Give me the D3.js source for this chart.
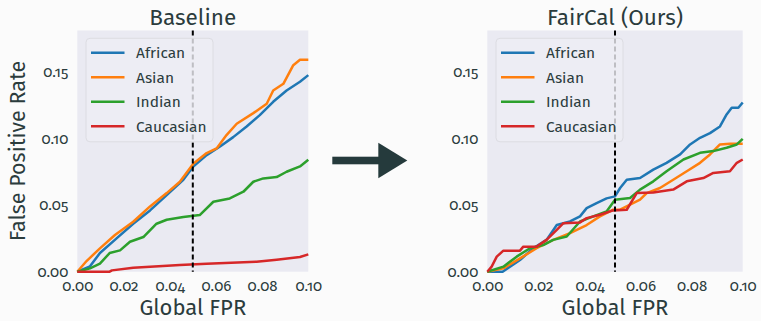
<!DOCTYPE html>
<html>
<head>
<meta charset="utf-8">
<script src="https://cdn.jsdelivr.net/npm/d3@7"></script>
<style>
  body { margin: 0; background: #fbfbfb; }
  svg { display: block; font-family: "Fira Sans", "Open Sans", sans-serif; }
  text { fill: #2b3c3d; }
  .tick-label { font-size: 15px; font-variant-numeric: oldstyle-nums; }
</style>
</head>
<body>
<div id="chart"></div>
<script>
const groups = ['African', 'Asian', 'Indian', 'Caucasian'];
const groupColors = ['#1f77b4', '#ff7f0e', '#2ca02c', '#d62728'];
const xTicks = [0, 0.02, 0.04, 0.06, 0.08, 0.10];
const yTicks = [0, 0.05, 0.10, 0.15];
const globalThreshold = 0.05;

// Baseline panel: [global FPR, group FPR]
const baselineAfrican = [[0, 0], [0.0055, 0.004], [0.0098, 0.014], [0.017, 0.025], [0.0242, 0.036], [0.0315, 0.046], [0.0387, 0.0575], [0.0459, 0.069], [0.0502, 0.079], [0.056, 0.0875], [0.0618, 0.094], [0.0675, 0.101], [0.0733, 0.109], [0.079, 0.1175], [0.0848, 0.1275], [0.0906, 0.136], [0.0964, 0.1425], [0.1, 0.1475]];
const baselineAsian = [[0, 0], [0.004, 0.008], [0.0098, 0.0175], [0.0163, 0.0275], [0.0242, 0.0375], [0.0315, 0.049], [0.0387, 0.059], [0.0444, 0.0675], [0.0502, 0.081], [0.056, 0.089], [0.0603, 0.0925], [0.0646, 0.1025], [0.069, 0.111], [0.0762, 0.119], [0.082, 0.126], [0.0848, 0.136], [0.0892, 0.141], [0.0935, 0.155], [0.0964, 0.159], [0.1, 0.159]];
const baselineIndian = [[0, 0], [0.0055, 0.0025], [0.0098, 0.006], [0.014, 0.014], [0.0185, 0.016], [0.0228, 0.0225], [0.0286, 0.026], [0.0343, 0.036], [0.0387, 0.039], [0.0459, 0.041], [0.053, 0.0425], [0.0589, 0.0525], [0.066, 0.055], [0.0719, 0.06], [0.0762, 0.0675], [0.0805, 0.07], [0.0863, 0.071], [0.0906, 0.075], [0.0964, 0.079], [0.1, 0.084]];
const baselineCaucasian = [[0, 0], [0.014, 0], [0.015, 0.001], [0.0242, 0.003], [0.0444, 0.005], [0.056, 0.006], [0.0776, 0.0075], [0.0863, 0.009], [0.0964, 0.011], [0.1, 0.013]];

// FairCal panel
const faircalAfrican = [[0, 0], [0.006, 0], [0.0089, 0.0038], [0.0128, 0.0088], [0.018, 0.0176], [0.0232, 0.0239], [0.0272, 0.035], [0.0324, 0.0377], [0.0363, 0.0415], [0.0389, 0.0477], [0.0428, 0.0515], [0.0467, 0.055], [0.05, 0.0565], [0.052, 0.0628], [0.0546, 0.069], [0.0598, 0.0703], [0.065, 0.0766], [0.0702, 0.0817], [0.0755, 0.088], [0.0794, 0.0955], [0.0833, 0.1005], [0.0872, 0.104], [0.0911, 0.109], [0.0937, 0.118], [0.0957, 0.123], [0.0983, 0.123], [0.1, 0.127]];
const faircalAsian = [[0, 0], [0.0063, 0.0025], [0.0128, 0.01], [0.0193, 0.0176], [0.0258, 0.0239], [0.0324, 0.0289], [0.0389, 0.035], [0.0441, 0.0415], [0.0493, 0.0465], [0.052, 0.0465], [0.0559, 0.0503], [0.0598, 0.054], [0.0624, 0.059], [0.0676, 0.0628], [0.0728, 0.069], [0.0781, 0.0754], [0.0833, 0.0817], [0.0872, 0.088], [0.0911, 0.0955], [0.095, 0.096], [0.1, 0.096]];
const faircalIndian = [[0, 0], [0.0063, 0.0038], [0.0115, 0.0113], [0.0167, 0.0176], [0.0219, 0.02], [0.0258, 0.0239], [0.0311, 0.0264], [0.0363, 0.0377], [0.0415, 0.0415], [0.0467, 0.0452], [0.05, 0.054], [0.0559, 0.0553], [0.0598, 0.0616], [0.065, 0.0678], [0.0702, 0.0754], [0.0768, 0.0842], [0.0833, 0.0892], [0.0885, 0.0905], [0.0937, 0.093], [0.0977, 0.0955], [0.1, 0.0997]];
const faircalCaucasian = [[0, 0], [0.0017, 0.0038], [0.0037, 0.0113], [0.0063, 0.0158], [0.0128, 0.0158], [0.0141, 0.0188], [0.0193, 0.0188], [0.0232, 0.0239], [0.0272, 0.0314], [0.0298, 0.0364], [0.0363, 0.037], [0.0389, 0.0402], [0.0441, 0.0427], [0.0493, 0.046], [0.0546, 0.0465], [0.0585, 0.059], [0.065, 0.0595], [0.0728, 0.0616], [0.0781, 0.0678], [0.0846, 0.0703], [0.0885, 0.0741], [0.095, 0.0754], [0.0977, 0.0817], [0.1, 0.0842]];

const width = 761, height = 321;
const plotTop = 30.5, plotBottom = 271.7;
const panels = [
  {title: 'Baseline', left: 77.3, right: 308.3, yLabel: true,
   series: [baselineAfrican, baselineAsian, baselineIndian, baselineCaucasian]},
  {title: 'FairCal (Ours)', left: 487.3, right: 742.7, yLabel: false,
   series: [faircalAfrican, faircalAsian, faircalIndian, faircalCaucasian]}
];

const svg = d3.select('#chart')
              .append('svg')
              .attr('width', width)
              .attr('height', height);

svg.append('rect')
   .attr('width', width)
   .attr('height', height)
   .attr('fill', '#fbfbfb');

const yScale = d3.scaleLinear()
                 .domain([0, 0.181])
                 .range([plotBottom, plotTop]);

panels.forEach(p => {
  const xScale = d3.scaleLinear()
                   .domain([0, 0.1])
                   .range([p.left, p.right]);
  const g = svg.append('g');
  const mid = (p.left + p.right) / 2;

  g.append('rect')
   .attr('x', p.left)
   .attr('y', plotTop)
   .attr('width', p.right - p.left)
   .attr('height', plotBottom - plotTop)
   .attr('fill', '#eaeaf2');

  const line = d3.line()
                 .x(d => xScale(d[0]))
                 .y(d => yScale(d[1]));

  p.series.forEach((s, i) => {
    g.append('path')
     .datum(s)
     .attr('d', line)
     .attr('fill', 'none')
     .attr('stroke', groupColors[i])
     .attr('stroke-width', 2.5)
     .attr('stroke-linejoin', 'round');
  });

  g.append('line')
   .attr('x1', xScale(globalThreshold))
   .attr('x2', xScale(globalThreshold))
   .attr('y1', plotTop)
   .attr('y2', plotBottom)
   .attr('stroke', '#000')
   .attr('stroke-width', 2)
   .attr('stroke-dasharray', '5,3');

  // axes without tick marks or domain line
  const xAxis = g.append('g')
                 .attr('transform', `translate(0, ${plotBottom})`)
                 .call(d3.axisBottom(xScale).tickValues(xTicks).tickSize(0).tickPadding(9)
                         .tickFormat(d3.format('.2f')));
  const yAxis = g.append('g')
                 .attr('transform', `translate(${p.left}, 0)`)
                 .call(d3.axisLeft(yScale).tickValues(yTicks).tickSize(0).tickPadding(9)
                         .tickFormat(d3.format('.2f')));
  [xAxis, yAxis].forEach(a => {
    a.select('.domain').remove();
    a.attr('font-family', null).attr('font-size', null);
    a.selectAll('text')
     .attr('class', 'tick-label')
     .attr('fill', '#2b3c3d');
  });

  g.append('text')
   .attr('x', mid)
   .attr('y', 25)
   .attr('text-anchor', 'middle')
   .style('font-size', '22.5px')
   .text(p.title);

  g.append('text')
   .attr('x', mid)
   .attr('y', 315)
   .attr('text-anchor', 'middle')
   .style('font-size', '22px')
   .text('Global FPR');

  if (p.yLabel) {
    g.append('text')
     .attr('transform', `translate(25, ${(plotTop + plotBottom) / 2}) rotate(-90)`)
     .attr('text-anchor', 'middle')
     .style('font-size', '21.5px')
     .text('False Positive Rate');
  }

  // legend
  const lg = g.append('g')
              .attr('transform', `translate(${p.left + 8.7}, 38.3)`);
  lg.append('rect')
    .attr('width', 127)
    .attr('height', 103.5)
    .attr('rx', 4)
    .attr('fill', '#eeeef4')
    .attr('fill-opacity', 0.8)
    .attr('stroke', '#dcdce2')
    .attr('stroke-width', 1);
  groups.forEach((name, i) => {
    const y = 14.4 + i * 24.5;
    lg.append('line')
      .attr('x1', 5)
      .attr('x2', 38.5)
      .attr('y1', y)
      .attr('y2', y)
      .attr('stroke', groupColors[i])
      .attr('stroke-width', 2.5);
    lg.append('text')
      .attr('x', 50)
      .attr('y', y)
      .attr('dy', '0.35em')
      .style('font-size', '15.5px')
      .text(name);
  });
});

// arrow between panels
const arrow = svg.append('g').attr('fill', '#253a3c');
arrow.append('rect')
     .attr('x', 332.3)
     .attr('y', 156.7)
     .attr('width', 47)
     .attr('height', 7.6);
arrow.append('path')
     .attr('d', 'M378.3,142.7 L407.3,160.5 L378.3,178.3 Z');
</script>
</body>
</html>
